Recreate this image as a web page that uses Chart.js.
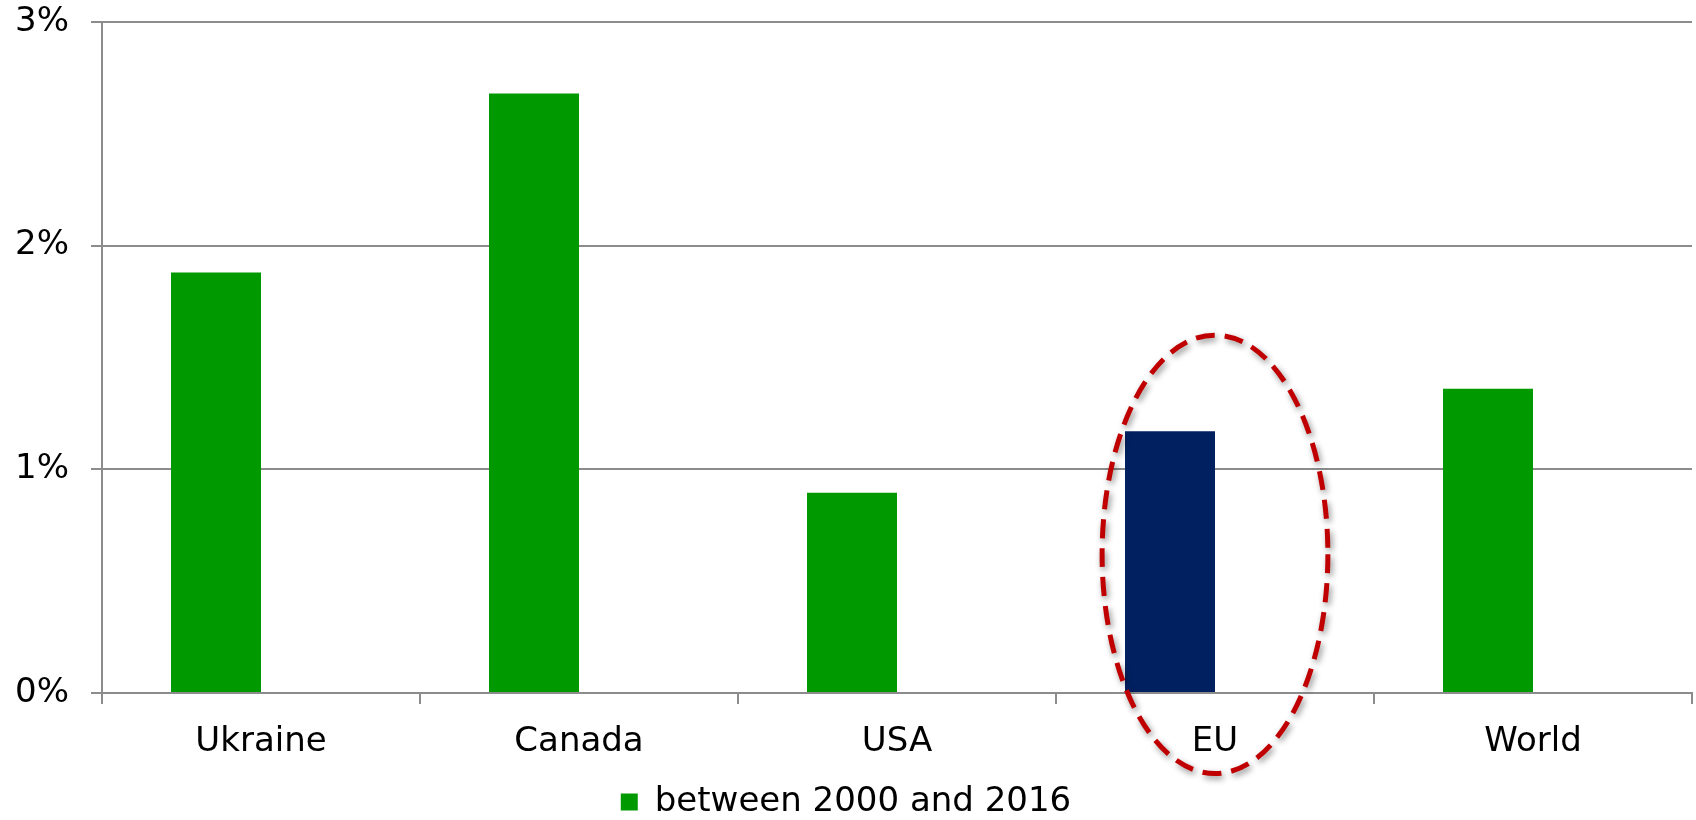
<!DOCTYPE html>
<html>
<head>
<meta charset="utf-8">
<script src="https://cdn.jsdelivr.net/npm/chart.js@4"></script>
<style>
  html, body { margin: 0; padding: 0; background: #fff; }
  #wrap { width: 1696px; height: 820px; position: relative; }
</style>
</head>
<body>
<div id="wrap"><canvas id="growth"></canvas></div>
<script>
// annual growth, % per year
const regions = ['Ukraine', 'Canada', 'USA', 'EU', 'World']
const growth2000to2016 = [1.88, 2.68, 0.895, 1.17, 1.36]
const secondPeriod = [null, null, null, null, null]
const yTicks = [0, 1, 2, 3]
const highlighted = 'EU'

const green = '#009900'
const navy = '#002060'
const gridGray = '#8c8c8c'

// dashed ring around the highlighted region, in axis units
const ring = { category: highlighted, halfWidth: 0.355, top: 1.60, bottom: -0.36 }

const ringPlugin = {
    id: 'ring',
    afterDraw(chart) {
        const x = chart.scales.x
        const y = chart.scales.y
        const idx = chart.data.labels.indexOf(ring.category)
        const cx = x.getPixelForValue(idx)
        const left = x.getPixelForValue(idx - ring.halfWidth)
        const top = y.getPixelForValue(ring.top)
        const bottom = y.getPixelForValue(ring.bottom)
        const ctx = chart.ctx
        ctx.save()
        ctx.beginPath()
        ctx.ellipse(cx, (top + bottom) / 2, cx - left, (bottom - top) / 2, 0, 0, Math.PI * 2)
        ctx.setLineDash([19, 10])
        ctx.lineWidth = 5
        ctx.strokeStyle = '#c00000'
        ctx.shadowColor = 'rgba(0,0,0,0.45)'
        ctx.shadowBlur = 6
        ctx.shadowOffsetX = 2
        ctx.shadowOffsetY = 3
        ctx.stroke()
        ctx.restore()
    }
}

Chart.defaults.font.family = "'DejaVu Sans', Verdana, sans-serif"
Chart.defaults.font.size = 34
Chart.defaults.color = '#000'

new Chart(document.getElementById('growth'), {
    type: 'bar',
    data: {
        labels: regions,
        datasets: [
            {
                label: 'between 2000 and 2016',
                data: growth2000to2016,
                backgroundColor: (c) => c.chart.data.labels[c.dataIndex] === highlighted ? navy : green,
                borderWidth: 0,
                categoryPercentage: 0.566,
                barPercentage: 1.0
            },
            {
                label: '',
                data: secondPeriod,
                backgroundColor: '#7f7f7f',
                categoryPercentage: 0.566,
                barPercentage: 1.0
            }
        ]
    },
    options: {
        responsive: true,
        maintainAspectRatio: false,
        animation: false,
        layout: { padding: { top: 22, right: 4, left: 0, bottom: -9 } },
        plugins: {
            legend: {
                position: 'bottom',
                labels: {
                    boxWidth: 17,
                    boxHeight: 17,
                    padding: 0,
                    filter: (item) => item.text !== ''
                }
            },
            tooltip: { enabled: false }
        },
        scales: {
            x: {
                grid: { offset: true, drawOnChartArea: false, tickLength: 11, color: gridGray, lineWidth: 2 },
                border: { display: true, color: gridGray, width: 2 },
                ticks: { padding: 18, maxRotation: 0, autoSkip: false },
                afterFit: (s) => { s.height = 92 }
            },
            y: {
                min: 0,
                max: 3,
                afterBuildTicks: (s) => { s.ticks = yTicks.map(v => ({ value: v })) },
                grid: { tickLength: 11, color: gridGray, lineWidth: 2 },
                border: { display: true, color: gridGray, width: 2 },
                ticks: { padding: 22, callback: (v) => v + '%' },
                afterFit: (s) => {
                    s.width = 102
                    s.paddingTop = 0
                    s.paddingBottom = 0
                }
            }
        }
    },
    plugins: [ringPlugin]
})
</script>
</body>
</html>
